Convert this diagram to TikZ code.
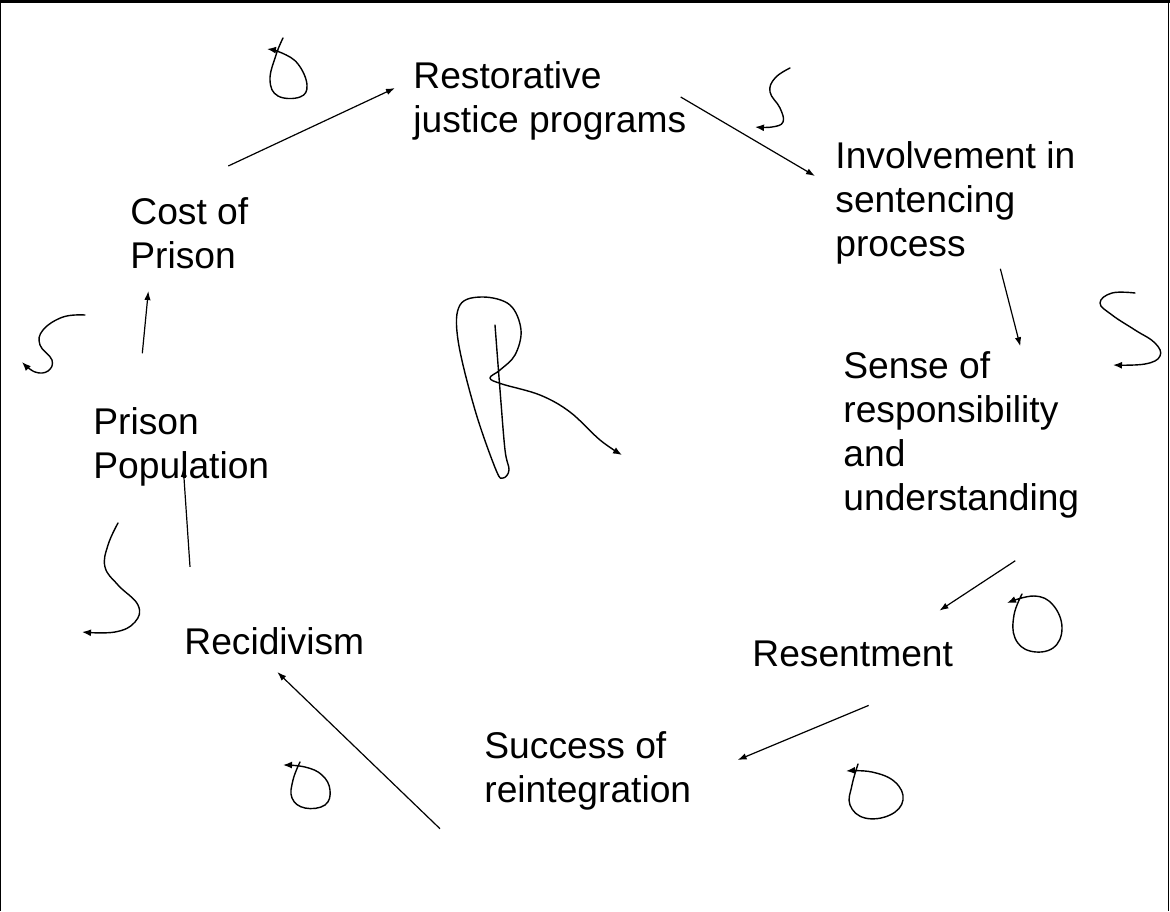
\documentclass[tikz,border=0pt]{standalone}
\usepackage{fontspec}
\setmainfont{Liberation Sans}
\usetikzlibrary{arrows.meta}
\begin{document}
\begin{tikzpicture}[x=0.5pt, y=-0.5pt,
    lbl/.style={anchor=west, align=left, inner sep=0pt, font=\fontsize{18.6}{22}\selectfont},
    arr/.style={-{Latex[length=4.5pt, width=3.2pt]}, line width=0.6pt},
    mano/.style={-{Latex[length=4.5pt, width=3.5pt]}, line width=0.7pt, line cap=round, line join=round}]
    \useasboundingbox (0,0) rectangle (1170,911);
    % Marco
    \draw[line width=1.5pt] (0,1.5) -- (1170,1.5);
    \draw[line width=0.5pt] (0.5,0) -- (0.5,911);
    \draw[line width=0.5pt] (1168.5,0) -- (1168.5,911);

    % Variables del ciclo
    \node[lbl] (rest)    at (413,101) {Restorative\\justice programs};
    \node[lbl] (inv)     at (835,203) {Involvement in\\sentencing\\process};
    \node[lbl] (sense)   at (843,435) {Sense of\\responsibility\\and\\understanding};
    \node[lbl] (resent)  at (752,654) {Resentment};
    \node[lbl] (success) at (484,771) {Success of\\reintegration};
    \node[lbl] (recid)   at (184,641) {Recidivism};
    \node[lbl] (prison)  at (93,447)  {Prison\\Population};
    \node[lbl] (cost)    at (130,233) {Cost of\\Prison};

    % Flechas entre variables
    \draw[arr] ([shift={(39,-31)}]cost.north) -- ([shift={(-18,-13)}]rest.west);
    \draw[arr] ([shift={(-6,-4)}]rest.east) -- ([shift={(-20,-27)}]inv.west);
    \draw[arr] ([shift={(45,4)}]inv.south) -- ([shift={(59,-5)}]sense.north);
    \draw[arr] ([shift={(54,42)}]sense.south) -- ([shift={(-14,-30)}]resent.north east);
    \draw[arr] ([shift={(16,38)}]resent.south) -- ([shift={(46,-11)}]success.east);
    \draw[arr] ([shift={(-44,18)}]success.south west) -- ([shift={(3,17)}]recid.south);
    \draw[arr] ([shift={(6,-60)}]recid.north west) -- ([shift={(2,-19)}]prison.south);
    \draw[arr] ([shift={(-39,-54)}]prison.north) -- ([shift={(-41,22)}]cost.south);

    % Polaridades (S)
    \draw[mano] plot[smooth, tension=0.7] coordinates {(790,68) (775,78) (770,92) (780,108) (783,122) (772,127) (755,127)};
    \draw[mano] plot[smooth, tension=0.7] coordinates {(1135,293) (1112,293) (1100,303) (1112,315) (1135,330) (1155,343) (1160,356) (1145,364) (1113,365)};
    \draw[mano] plot[smooth, tension=0.7] coordinates {(85,315) (63,317) (43,330) (40,345) (52,360) (48,371) (35,372) (22,362)};
    \draw[mano] plot[smooth, tension=0.7] coordinates {(118,523) (108,545) (105,567) (118,585) (138,605) (135,622) (115,632) (82,632)};

    % Polaridades (O)
    \draw[mano] plot[smooth, tension=0.7] coordinates {(283,38) (276,55) (270,80) (278,96) (300,97) (307,85) (298,64) (282,53) (267,49)};
    \draw[mano] plot[smooth, tension=0.7] coordinates {(1022,594) (1014,615) (1015,638) (1030,651) (1053,648) (1062,628) (1053,605) (1034,596) (1007,603)};
    \draw[mano] plot[smooth, tension=0.7] coordinates {(858,764) (852,785) (850,805) (865,818) (890,815) (903,800) (895,782) (872,772) (846,771)};
    \draw[mano] plot[smooth, tension=0.7] coordinates {(300,762) (293,780) (292,798) (305,808) (325,805) (330,790) (322,775) (305,767) (283,765)};

    % Bucle R
    \draw[mano] plot[smooth, tension=0.6] coordinates {(495,325) (500,390) (505,450) (509,470) (503,478) (496,470) (475,410) (458,340) (460,305) (483,297) (510,305) (521,330) (515,355) (500,370) (490,378) (502,384) (540,395) (570,412) (600,440) (622,455)};
\end{tikzpicture}
\end{document}
